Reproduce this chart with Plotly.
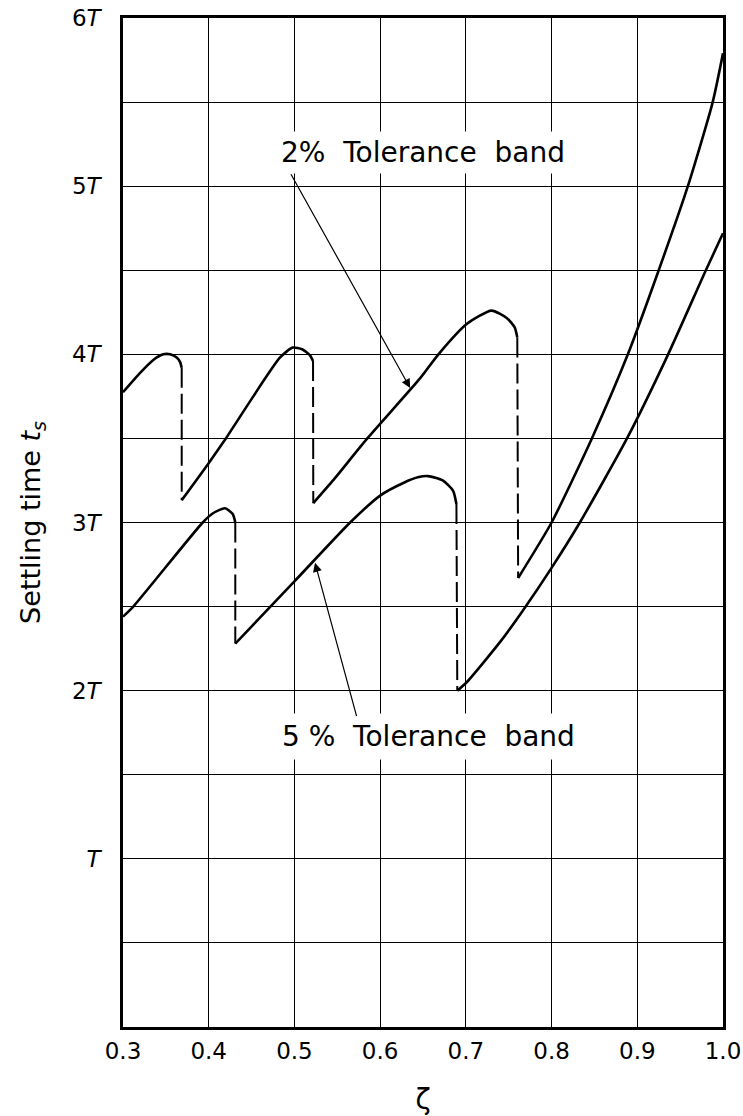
import plotly.graph_objects as go

# ---- data (ζ vs settling time in units of T) ----
# 2 % tolerance band, solid pieces
band2_a_x = [0.300, 0.320, 0.335, 0.347, 0.355, 0.363, 0.3665, 0.3685]
band2_a_y = [3.775, 3.89, 3.965, 4.00, 4.00, 3.98, 3.955, 3.92]
band2_b_x = [0.3685, 0.3995, 0.420, 0.483, 0.498, 0.509, 0.518, 0.5217]
band2_b_y = [3.133, 3.35, 3.50, 3.98, 4.04, 4.03, 3.995, 3.96]
band2_c_x = [0.522, 0.545, 0.585, 0.647, 0.668, 0.701, 0.730, 0.748, 0.757, 0.760]
band2_c_y = [3.115, 3.25, 3.50, 3.86, 4.00, 4.18, 4.26, 4.215, 4.16, 4.10]
band2_d_x = [0.761, 0.800, 0.847, 0.889, 0.925, 0.959, 0.988, 1.000]
band2_d_y = [2.67, 3.00, 3.50, 4.00, 4.50, 5.00, 5.50, 5.79]
# 2 % jumps (dashed)
jump2_x = [[0.3685, 0.3685], [0.5217, 0.522], [0.760, 0.761]]
jump2_y = [[3.92, 3.133], [3.96, 3.115], [4.10, 2.67]]

# 5 % tolerance band, solid pieces
band5_e_x = [0.300, 0.312, 0.393, 0.405, 0.419, 0.428, 0.431]
band5_e_y = [2.44, 2.50, 3.00, 3.055, 3.085, 3.05, 3.00]
band5_f_x = [0.431, 0.500, 0.565, 0.600, 0.627, 0.645, 0.656, 0.673, 0.685, 0.689]
band5_f_y = [2.28, 2.65, 3.00, 3.16, 3.235, 3.27, 3.276, 3.25, 3.19, 3.11]
band5_g_x = [0.690, 0.701, 0.740, 0.767, 0.800, 0.833, 0.888, 0.936, 0.980, 1.000]
band5_g_y = [2.00, 2.05, 2.29, 2.48, 2.73, 3.00, 3.50, 4.00, 4.50, 4.72]
# 5 % jumps (dashed)
jump5_x = [[0.431, 0.431], [0.689, 0.690]]
jump5_y = [[3.00, 2.28], [3.11, 2.00]]

# ticks
x_tick_vals = [0.3, 0.4, 0.5, 0.6, 0.7, 0.8, 0.9, 1.0]
x_tick_text = ["0.3", "0.4", "0.5", "0.6", "0.7", "0.8", "0.9", "1.0"]
y_tick_vals = [0, 0.5, 1, 1.5, 2, 2.5, 3, 3.5, 4, 4.5, 5, 5.5, 6]
y_tick_text = ["", "", "<i>T</i>", "", "2<i>T</i>", "", "3<i>T</i>", "",
               "4<i>T</i>", "", "5<i>T</i>", "", "6<i>T</i>"]

# labels
label2_text = "2%  Tolerance  band"
label5_text = "5 %  Tolerance  band"

FONT = "DejaVu Sans"
fig = go.Figure()

solid = dict(color="black", width=2.6)
dashed = dict(color="black", width=2.0, dash="20px,6px")

for xs, ys in [(band2_a_x, band2_a_y), (band2_b_x, band2_b_y),
               (band2_c_x, band2_c_y), (band2_d_x, band2_d_y),
               (band5_e_x, band5_e_y), (band5_f_x, band5_f_y),
               (band5_g_x, band5_g_y)]:
    fig.add_trace(go.Scatter(x=xs, y=ys, mode="lines",
                             line=dict(shape="spline", smoothing=0.6, **solid),
                             showlegend=False, hoverinfo="skip"))

for xs, ys in zip(jump2_x + jump5_x, jump2_y + jump5_y):
    fig.add_trace(go.Scatter(x=xs, y=ys, mode="lines", line=dashed,
                             showlegend=False, hoverinfo="skip"))

# annotations
fig.add_annotation(x=0.650, y=5.20, text=label2_text, showarrow=False,
                   font=dict(family=FONT, size=28, color="black"),
                   bgcolor="white", borderpad=4)
fig.add_annotation(x=0.656, y=1.73, text=label5_text, showarrow=False,
                   font=dict(family=FONT, size=28, color="black"),
                   bgcolor="white", borderpad=6)
fig.add_annotation(x=0.635, y=3.80, ax=0.495, ay=5.08, axref="x", ayref="y",
                   text="", showarrow=True, arrowhead=2, arrowsize=1.5,
                   arrowwidth=1.2, arrowcolor="black", standoff=0)
fig.add_annotation(x=0.524, y=2.76, ax=0.573, ay=1.84, axref="x", ayref="y",
                   text="", showarrow=True, arrowhead=2, arrowsize=1.5,
                   arrowwidth=1.2, arrowcolor="black", standoff=0)

fig.update_layout(
    width=743, height=1116,
    margin=dict(l=123, r=20, t=18, b=89, autoexpand=False),
    paper_bgcolor="white", plot_bgcolor="white",
    font=dict(family=FONT, size=23, color="black"),
    xaxis=dict(range=[0.3, 1.0], tickvals=x_tick_vals, ticktext=x_tick_text,
               showgrid=True, gridcolor="black", gridwidth=1.4,
               showline=True, linecolor="black", linewidth=2.6, mirror=True,
               ticks="", zeroline=False, tickfont=dict(size=23),
               ticklabelstandoff=2, automargin=False, ticklabeloverflow="allow",
               title=dict(text="ζ", font=dict(size=28), standoff=32)),
    yaxis=dict(range=[0, 6], tickvals=y_tick_vals, ticktext=y_tick_text,
               showgrid=True, gridcolor="black", gridwidth=1.4,
               showline=True, linecolor="black", linewidth=2.6, mirror=True,
               ticks="", zeroline=False, tickfont=dict(size=23),
               ticklabelstandoff=15, automargin=False, ticklabeloverflow="allow",
               title=dict(text="Settling time <i>t<sub>s</sub></i>",
                          font=dict(size=27), standoff=24)),
)

# remove the page's default 8px body margin so the figure fills the window
fig.write_html("out.html", config={"displayModeBar": False},
               post_script="document.body.style.margin='0';")
